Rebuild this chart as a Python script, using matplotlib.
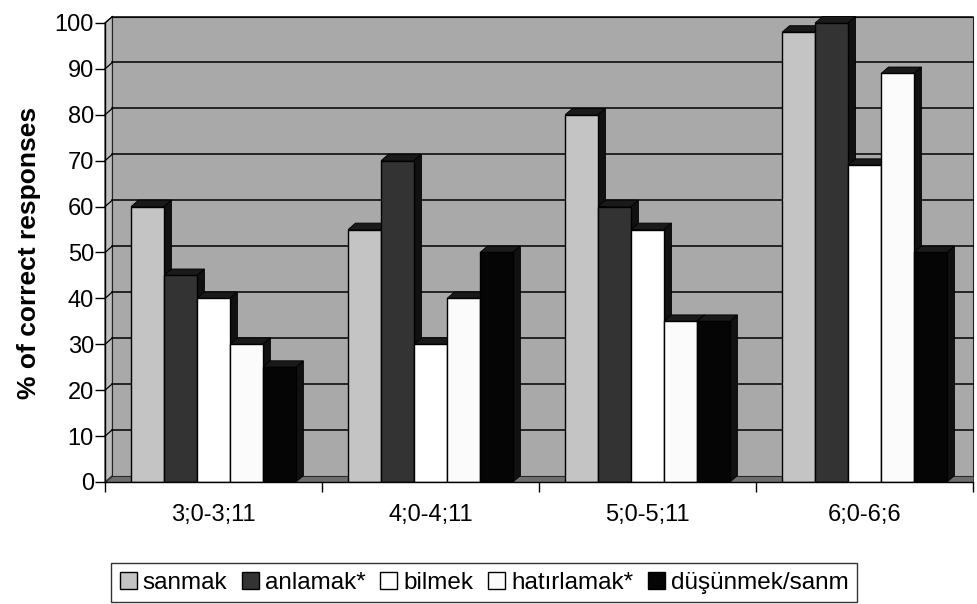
import matplotlib.pyplot as plt
import numpy as np
from matplotlib.patches import Polygon

plt.rcParams['font.family'] = ['Liberation Sans', 'DejaVu Sans']

age_groups = ['3;0-3;11', '4;0-4;11', '5;0-5;11', '6;0-6;6']
verbs = ['sanmak', 'anlamak*', 'bilmek', 'hatırlamak*', 'düşünmek/sanm']
sanmak = [60, 55, 80, 98]
anlamak = [45, 70, 60, 100]
bilmek = [40, 30, 55, 69]
hatirlamak = [30, 40, 35, 89]
dusunmek = [25, 50, 35, 50]
series = [sanmak, anlamak, bilmek, hatirlamak, dusunmek]
colors = ['#c4c4c4', '#333333', 'white', '#fbfbfb', '#050505']

fig = plt.figure(figsize=(9.77, 6.04), dpi=100)
ax = fig.add_axes([0.1075, 0.202, 0.8885, 0.760])

xmin, xmax = -0.5, 3.5
ax.set_xlim(xmin, xmax)
ax.set_ylim(0, 100)

# depth of the fake 3d box, in data units
dx = 0.034
dy = 1.4

# walls and floor
ax.add_patch(Polygon([(xmin + dx, dy), (xmax, dy), (xmax, 100 + dy), (xmin + dx, 100 + dy)],
                     closed=True, facecolor='#a9a9a9', edgecolor='#222222', lw=0.8,
                     zorder=0, clip_on=False))
ax.add_patch(Polygon([(xmin, 0), (xmin + dx, dy), (xmin + dx, 100 + dy), (xmin, 100)],
                     closed=True, facecolor='#bdbdbd', edgecolor='#222222', lw=0.8,
                     zorder=0.5, clip_on=False))
ax.add_patch(Polygon([(xmin, 0), (xmax, 0), (xmax, dy), (xmin + dx, dy)],
                     closed=True, facecolor='#6e6e6e', edgecolor='#222222', lw=0.6,
                     zorder=0.5, clip_on=False))

# gridlines on the back wall, joined to the front ticks
yticks = np.arange(0, 101, 10)
for v in yticks[1:]:
    ax.plot([xmin + dx, xmax], [v + dy, v + dy], color='black', lw=1.1, zorder=1, clip_on=False)
    ax.plot([xmin, xmin + dx], [v, v + dy], color='black', lw=0.9, zorder=1, clip_on=False)

width = 0.152
x = np.arange(len(age_groups))
for i, (vals, col) in enumerate(zip(series, colors)):
    pos = x + (i - 2) * width
    z = 2 + i
    for p, v in zip(pos, vals):
        x0, x1 = p - width / 2, p + width / 2
        # top and side faces
        ax.add_patch(Polygon([(x0, v), (x1, v), (x1 + dx, v + dy), (x0 + dx, v + dy)],
                             closed=True, facecolor='#1a1a1a', edgecolor='black', lw=0.6,
                             zorder=z, clip_on=False))
        ax.add_patch(Polygon([(x1, 0), (x1, v), (x1 + dx, v + dy), (x1 + dx, dy)],
                             closed=True, facecolor='#111111', edgecolor='black', lw=0.6,
                             zorder=z, clip_on=False))
    ax.bar(pos, vals, width=width, color=col, edgecolor='black', linewidth=1.0,
           label=verbs[i], zorder=z + 0.1)

ax.set_facecolor('none')
for s in ['top', 'right']:
    ax.spines[s].set_visible(False)
ax.spines['left'].set_linewidth(1.0)
ax.spines['bottom'].set_linewidth(1.0)
ax.spines['left'].set_zorder(10)
ax.spines['bottom'].set_zorder(10)

ax.set_yticks(yticks)
ax.tick_params(axis='y', labelsize=17, length=7, width=1, pad=1)
ax.set_xticks(np.arange(-0.5, 4.0, 1.0), minor=False)
ax.set_xticklabels([])
ax.set_xticks(x, minor=True)
ax.set_xticklabels(age_groups, minor=True)
ax.tick_params(axis='x', which='major', length=7, width=1, direction='out')
ax.tick_params(axis='x', which='minor', length=0, labelsize=17, pad=16)

ax.set_ylabel('% of correct responses', fontsize=19, fontweight='bold', labelpad=10)

leg = ax.legend(loc='center', bbox_to_anchor=(0.4955, 0.0354), bbox_transform=fig.transFigure,
                ncol=5, fontsize=17.5, frameon=True, fancybox=False, edgecolor='black',
                handlelength=0.7, handleheight=0.7, handletextpad=0.25, columnspacing=0.6,
                borderpad=0.35, borderaxespad=0)
leg.get_frame().set_linewidth(1.0)

plt.savefig('out.png', dpi=100)
plt.close()
